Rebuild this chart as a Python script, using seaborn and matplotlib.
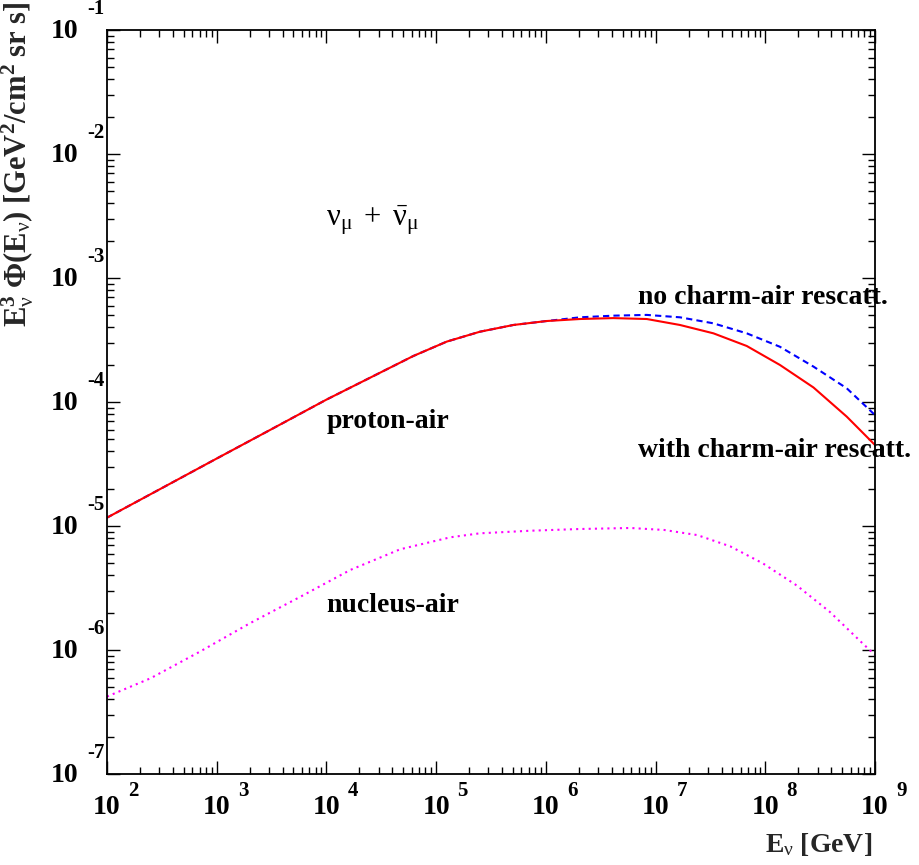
import numpy as np
import pandas as pd
import matplotlib
matplotlib.use('Agg')
import matplotlib.pyplot as plt
import matplotlib.transforms as mtransforms
from matplotlib.ticker import LogLocator, NullFormatter
import seaborn as sns

# energies (GeV) and E^3 * flux (GeV^2 / cm^2 sr s)
energy_p = [1e2, 3e2, 1e3, 3e3, 1e4, 3.08e4, 6.2e4, 1.25e5, 2.51e5, 5.06e5,
            1.02e6, 2.05e6, 4.13e6, 8.32e6, 1.67e7, 3.37e7, 6.78e7, 1.36e8,
            2.75e8, 5.53e8, 1e9]
flux_with = [1.167e-5, 1.97e-5, 3.50e-5, 5.89e-5, 1.045e-4, 1.722e-4, 2.35e-4,
             3.07e-4, 3.69e-4, 4.18e-4, 4.50e-4, 4.67e-4, 4.75e-4, 4.67e-4,
             4.18e-4, 3.58e-4, 2.83e-4, 1.99e-4, 1.31e-4, 7.62e-5, 4.50e-5]
flux_without = [1.167e-5, 1.97e-5, 3.50e-5, 5.89e-5, 1.045e-4, 1.722e-4, 2.35e-4,
                3.07e-4, 3.69e-4, 4.18e-4, 4.50e-4, 4.82e-4, 4.97e-4, 5.04e-4,
                4.82e-4, 4.31e-4, 3.58e-4, 2.79e-4, 1.93e-4, 1.29e-4, 7.85e-5]

energy_n = [1e2, 2.5e2, 7e2, 2e3, 5.8e3, 1.65e4, 4.7e4, 1.35e5, 2.5e5, 7.2e5,
            2.05e6, 5.9e6, 1.2e7, 2.4e7, 4.8e7, 9.5e7, 1.95e8, 3.9e8, 7.8e8, 1e9]
flux_nucleus = [4.21e-7, 5.92e-7, 9.68e-7, 1.64e-6, 2.69e-6, 4.42e-6, 6.49e-6,
                8.11e-6, 8.73e-6, 9.16e-6, 9.46e-6, 9.64e-6, 9.29e-6, 8.45e-6,
                6.85e-6, 5.00e-6, 3.30e-6, 2.02e-6, 1.12e-6, 9.12e-7]

x_decades = [2, 3, 4, 5, 6, 7, 8, 9]
y_decades = [-7, -6, -5, -4, -3, -2, -1]

sns.set_style('ticks')
plt.rcParams['font.family'] = ['Liberation Serif', 'DejaVu Serif']
plt.rcParams['mathtext.fontset'] = 'custom'
plt.rcParams['mathtext.rm'] = 'Liberation Serif'
plt.rcParams['mathtext.it'] = 'Liberation Serif:italic'
plt.rcParams['mathtext.bf'] = 'Liberation Serif:bold'

fig = plt.figure(figsize=(9.19, 8.65), dpi=100)
ax = fig.add_axes([0.1164, 0.1052, 0.8357, 0.8601])

df_p = pd.DataFrame({'E': energy_p, 'with': flux_with, 'without': flux_without})
df_n = pd.DataFrame({'E': energy_n, 'nucleus': flux_nucleus})

sns.lineplot(data=df_p, x='E', y='without', ax=ax, color='#0000ff', lw=1.5,
             linestyle=(0, (3, 2)))
sns.lineplot(data=df_p, x='E', y='with', ax=ax, color='#ff0000', lw=1.5)
sns.lineplot(data=df_n, x='E', y='nucleus', ax=ax, color='#ff00ff', lw=1.5,
             linestyle=(0, (1, 2)))

ax.set_xscale('log')
ax.set_yscale('log')
ax.set_xlim(1e2, 1e9)
ax.set_ylim(1e-7, 1e-1)
ax.set_xlabel('')
ax.set_ylabel('')

ax.set_xticks([10.0 ** d for d in x_decades])
ax.set_yticks([10.0 ** d for d in y_decades])
ax.xaxis.set_minor_locator(LogLocator(base=10, subs=np.arange(2, 10), numticks=30))
ax.yaxis.set_minor_locator(LogLocator(base=10, subs=np.arange(2, 10), numticks=30))
ax.set_xticklabels([])
ax.set_yticklabels([])
ax.xaxis.set_minor_formatter(NullFormatter())
ax.yaxis.set_minor_formatter(NullFormatter())
ax.tick_params(which='both', direction='in', top=True, right=True, color='black')
ax.tick_params(which='major', length=9.5, width=1.0)
ax.tick_params(which='minor', length=5, width=1.0)
for sp in ax.spines.values():
    sp.set_color('black')
    sp.set_linewidth(1.3)

# ROOT-like "10  ^n" tick labels
bx = mtransforms.blended_transform_factory(ax.transData, ax.transAxes)
by = mtransforms.blended_transform_factory(ax.transAxes, ax.transData)
lab = dict(fontsize=20, fontweight='bold', color='black')
exp = dict(fontsize=15, fontweight='bold', color='black')
for d in x_decades:
    t = mtransforms.offset_copy(bx, fig=fig, x=0, y=-33, units='dots')
    ax.text(10.0 ** d, 0, '10', transform=t, ha='center', va='center', **lab)
    t2 = mtransforms.offset_copy(bx, fig=fig, x=21, y=-17, units='dots')
    ax.text(10.0 ** d, 0, str(d), transform=t2, ha='left', va='center', **exp)
for d in y_decades:
    t = mtransforms.offset_copy(by, fig=fig, x=-29, y=-1, units='dots')
    ax.text(0, 10.0 ** d, '10', transform=t, ha='right', va='center', **lab)
    t2 = mtransforms.offset_copy(by, fig=fig, x=-20, y=21, units='dots')
    ax.text(0, 10.0 ** d, str(d), transform=t2, ha='left', va='center', **exp)

# axis titles
ax.text(0.996, -0.095, r'$\mathbf{E}_{\mathrm{\nu}}\ \mathbf{[GeV]}$',
        transform=ax.transAxes, ha='right', va='center', fontsize=20)
ax.text(-0.116, 1.038,
        r'$\mathbf{E}^{\mathbf{3}}_{\mathrm{\nu}}\ \mathbf{\Phi(E}_{\mathrm{\nu}}'
        r'\mathbf{)\ [GeV}^{\mathbf{2}}\mathbf{/cm}^{\mathbf{2}}\mathbf{\ sr\ s]}$',
        transform=ax.transAxes, rotation=90, ha='center', va='top', fontsize=22)

# annotations
txt = dict(fontsize=20, fontweight='bold', color='black', va='center', ha='left')
ax.text(1e4, 6.9e-5, 'proton-air', **txt)
ax.text(1e4, 2.3e-6, 'nucleus-air', **txt)
ax.text(6.9e6, 7.0e-4, 'no charm-air rescatt.', clip_on=False, **txt)
ax.text(6.9e6, 4.1e-5, 'with charm-air rescatt.', clip_on=False, **txt)
ax.text(1e4, 2.94e-3,
        r'$\mathrm{\nu}_{\mathrm{\mu}}\ +\ \bar{\mathrm{\nu}}_{\mathrm{\mu}}$',
        fontsize=22, va='center', ha='left', color='black')

fig.savefig('out.png', dpi=100, facecolor='white')
